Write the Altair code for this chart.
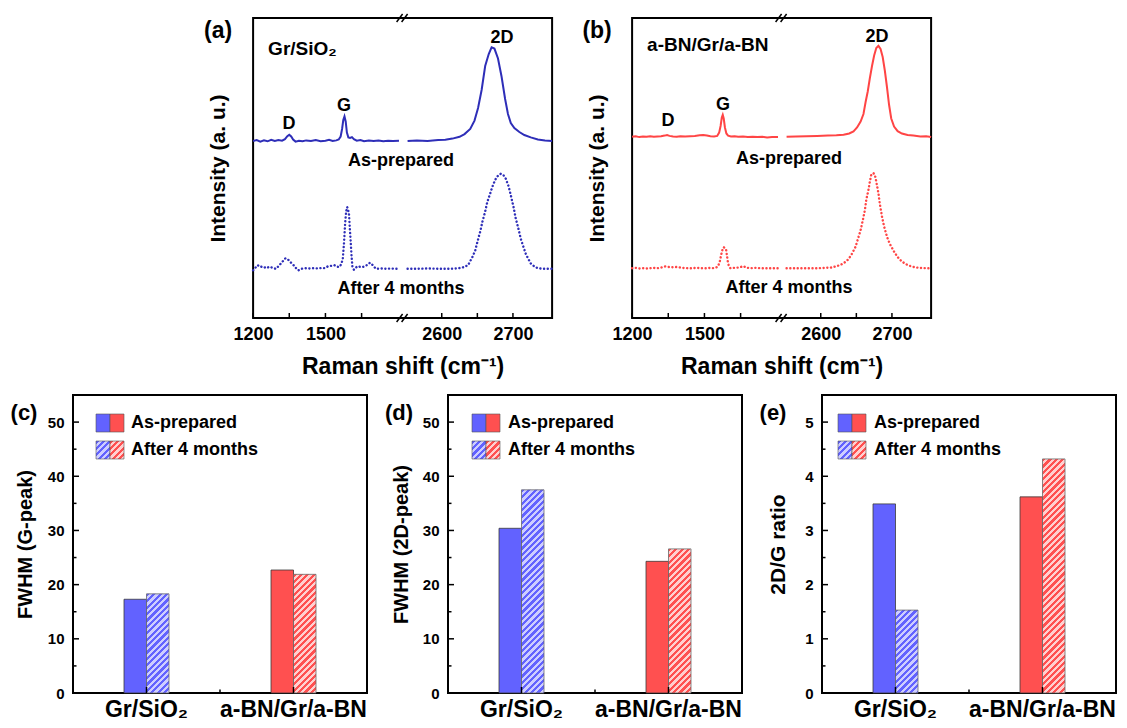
import altair as alt
import pandas as pd

FONT = "Liberation Sans"
BLUE_LINE = "#2e2eb8"
RED_LINE = "#ff4545"
BLUE_BAR = "#6262ff"
RED_BAR = "#ff5050"
BLUE_LIGHT = "#cdcdff"
RED_LIGHT = "#ffd0d0"

# ---------------- Raman spectra (wavenumber, intensity a.u.) ----------------
a_prep = [(1200, 59.0), (1215, 59.3), (1230, 58.8), (1245, 59.2), (1260, 58.9), (1275, 59.4), (1290, 59.0),
          (1305, 59.3), (1320, 59.1), (1332, 59.6), (1342, 60.6), (1350, 61.1), (1358, 60.5), (1366, 59.5),
          (1376, 58.8), (1390, 59.1), (1405, 58.9), (1420, 59.2), (1440, 59.0), (1460, 59.3), (1480, 58.9),
          (1500, 59.1), (1515, 59.4), (1530, 59.0), (1545, 59.2), (1555, 59.5), (1563, 60.5), (1569, 63.0),
          (1574, 66.0), (1579, 67.2), (1584, 65.5), (1589, 61.8), (1595, 60.2), (1602, 60.0), (1610, 60.3),
          (1618, 59.6), (1630, 59.1), (1645, 59.3), (1660, 58.9), (1680, 59.2), (1700, 59.0), (1720, 59.2),
          (1740, 58.9), (1760, 59.1), (1780, 59.0), (1805, 59.1),
          (2552, 59.0), (2565, 59.2), (2580, 59.0), (2595, 59.3), (2605, 59.4), (2615, 59.8), (2625, 60.4),
          (2632, 61.3), (2640, 63.0), (2646, 65.8), (2651, 70.0), (2656, 76.0), (2661, 84.0), (2666, 88.0),
          (2670, 90.2), (2674, 89.8), (2679, 86.5), (2684, 80.5), (2689, 73.0), (2693, 68.0), (2697, 65.0),
          (2702, 63.3), (2709, 62.0), (2716, 61.0), (2725, 60.2), (2735, 59.5), (2745, 59.2), (2755, 59.0)]

a_aged = [(1200, 15.9), (1210, 16.8), (1219, 17.6), (1230, 17.0), (1240, 17.2), (1255, 16.6), (1268, 17.1),
          (1282, 16.7), (1295, 16.4), (1309, 17.6), (1322, 18.8), (1334, 19.9), (1343, 19.6), (1351, 19.0),
          (1362, 18.0), (1371, 17.4), (1380, 16.4), (1388, 15.9), (1400, 16.4), (1413, 16.6), (1430, 16.5),
          (1450, 16.6), (1470, 16.5), (1485, 16.7), (1496, 16.6), (1510, 17.2), (1525, 17.4), (1537, 17.6),
          (1548, 17.1), (1558, 17.0), (1566, 18.0), (1572, 19.8), (1577, 25.0), (1582, 32.0), (1586, 35.5),
          (1590, 37.0), (1594, 36.2), (1598, 34.3), (1601, 30.0), (1604, 26.4), (1608, 21.0), (1612, 17.0),
          (1618, 16.1), (1626, 16.8), (1634, 17.3), (1645, 17.0), (1655, 17.0), (1666, 17.4), (1676, 17.8),
          (1684, 18.4), (1690, 18.2), (1700, 17.2), (1710, 16.4), (1730, 16.5), (1750, 16.4), (1770, 16.5),
          (1790, 16.4), (1805, 16.4),
          (2552, 16.4), (2565, 16.4), (2580, 16.5), (2595, 16.4), (2610, 16.4), (2622, 16.5), (2630, 16.9),
          (2637, 17.6), (2643, 20.3), (2647, 22.5), (2650, 25.3), (2654, 28.8), (2657, 32.0), (2661, 35.5),
          (2664, 38.7), (2668, 41.5), (2671, 43.7), (2675, 46.0), (2678, 47.2), (2683, 48.1), (2687, 47.5),
          (2690, 46.4), (2694, 43.8), (2697, 40.9), (2701, 36.8), (2704, 33.1), (2708, 29.5), (2711, 26.4),
          (2715, 23.5), (2718, 21.4), (2722, 19.5), (2725, 18.2), (2730, 17.2), (2735, 16.6), (2742, 16.4),
          (2750, 16.4), (2755, 16.4)]

b_prep = [(1200, 60.4), (1215, 60.6), (1230, 60.3), (1245, 60.5), (1260, 60.4), (1275, 60.6), (1290, 60.4),
          (1305, 60.5), (1320, 60.6), (1335, 60.8), (1345, 61.0), (1355, 60.7), (1370, 60.5), (1385, 60.4),
          (1400, 60.6), (1420, 60.5), (1440, 60.6), (1460, 60.7), (1480, 60.9), (1495, 61.0), (1510, 60.8),
          (1525, 60.6), (1540, 60.5), (1553, 60.7), (1561, 61.8), (1567, 64.0), (1572, 66.8), (1576, 67.7),
          (1580, 66.5), (1585, 63.5), (1591, 61.5), (1598, 60.8), (1610, 60.5), (1625, 60.6), (1640, 60.4),
          (1660, 60.5), (1680, 60.3), (1700, 60.4), (1720, 60.3), (1740, 60.4), (1760, 60.2), (1780, 60.3),
          (1805, 60.3),
          (2552, 60.4), (2565, 60.5), (2580, 60.6), (2595, 60.7), (2610, 60.8), (2622, 60.9), (2632, 61.1),
          (2640, 61.5), (2646, 62.2), (2651, 63.5), (2656, 65.5), (2660, 68.0), (2663, 72.0), (2666, 75.5),
          (2669, 80.0), (2672, 84.0), (2675, 87.5), (2678, 90.0), (2681, 90.7), (2684, 89.7), (2687, 87.0),
          (2690, 82.5), (2693, 77.0), (2696, 71.0), (2699, 66.5), (2703, 63.8), (2708, 62.3), (2714, 61.5),
          (2722, 61.0), (2730, 60.8), (2740, 60.5), (2748, 60.6), (2755, 60.3)]

b_aged = [(1200, 16.6), (1215, 16.7), (1230, 16.5), (1245, 16.6), (1260, 16.5), (1275, 16.6), (1290, 16.7),
          (1305, 16.6), (1320, 16.8), (1337, 17.2), (1350, 17.0), (1365, 16.9), (1380, 17.0), (1394, 16.9),
          (1410, 16.7), (1430, 16.6), (1450, 16.6), (1470, 16.7), (1490, 16.6), (1510, 16.6), (1525, 16.7),
          (1539, 16.6), (1550, 16.9), (1557, 17.3), (1564, 19.0), (1571, 21.6), (1576, 23.2), (1580, 23.6),
          (1585, 23.3), (1590, 22.7), (1594, 20.5), (1598, 18.2), (1603, 17.0), (1608, 16.6), (1620, 16.7),
          (1640, 16.8), (1655, 17.1), (1663, 17.3), (1672, 16.8), (1690, 16.6), (1710, 16.7), (1730, 16.6),
          (1750, 16.6), (1770, 16.6), (1790, 16.6), (1805, 16.6),
          (2552, 16.6), (2565, 16.6), (2580, 16.6), (2595, 16.6), (2605, 16.7), (2614, 16.8), (2621, 17.2),
          (2628, 17.7), (2634, 18.6), (2639, 19.6), (2644, 21.5), (2649, 23.8), (2652, 26.2), (2656, 29.3),
          (2659, 32.5), (2662, 36.0), (2664, 39.5), (2667, 42.7), (2669, 45.5), (2671, 47.8), (2674, 48.3),
          (2676, 47.7), (2678, 45.5), (2681, 41.6), (2683, 38.0), (2686, 33.8), (2689, 30.5), (2693, 27.1),
          (2697, 24.7), (2703, 22.1), (2708, 20.3), (2714, 18.8), (2721, 17.8), (2728, 17.1), (2738, 16.7),
          (2749, 16.6), (2755, 16.6)]

tick_wn_major = [1200, 1500, 2600, 2700]
tick_wn_minor = [1350, 1650, 2650]

# ---------------- bar data ----------------
categories = ["Gr/SiO₂", "a-BN/Gr/a-BN"]
groups = ["As-prepared", "After 4 months"]
fwhm_g_prep = [17.3, 22.7]
fwhm_g_aged = [18.3, 21.9]
fwhm_2d_prep = [30.4, 24.3]
fwhm_2d_aged = [37.5, 26.6]
ratio_prep = [3.49, 3.62]
ratio_aged = [1.53, 4.32]

# ---------------- broken x-axis mapping ----------------
S1_LO, S1_HI = 1200, 1820
S2_LO, S2_HI = 2545, 2755
POS_EXPR = (f"datum.wn < 2000 ? (datum.wn - {S1_LO}) / {S1_HI - S1_LO} * 0.5"
            f" : 0.5 + (datum.wn - {S2_LO}) / {S2_HI - S2_LO} * 0.5")
LABEL_EXPR = (f"format(datum.value < 0.5 ? {S1_LO} + datum.value * 2 * {S1_HI - S1_LO}"
              f" : {S2_LO} + (datum.value - 0.5) * 2 * {S2_HI - S2_LO}, '.0f')")


def pos_of(w):
    if w < 2000:
        return (w - S1_LO) / (S1_HI - S1_LO) * 0.5
    return 0.5 + (w - S2_LO) / (S2_HI - S2_LO) * 0.5


ONE = pd.DataFrame({"k": [0]})
SW, SH = 299, 300
BW, BH = 294, 298
BAR_W = 22.5
X_PAD_INNER = 1 - 2 * BAR_W / (BW / 2)
X_PAD_OUTER = X_PAD_INNER / 2


def txt(s, x, y, size=18, align="center"):
    return alt.Chart(ONE).mark_text(text=s, font=FONT, fontWeight="bold", fontSize=size, align=align,
                                    baseline="middle", color="black").encode(x=alt.value(x), y=alt.value(y))


def seg_rule(x0, y0, x1, y1, color="black", width=1.5):
    return alt.Chart(ONE).mark_rule(color=color, strokeWidth=width).encode(
        x=alt.value(x0), y=alt.value(y0), x2=alt.value(x1), y2=alt.value(y1))


def spectra_panel(letter, prep, aged, color, notes):
    df = pd.concat([
        pd.DataFrame(prep, columns=["wn", "inten"]).assign(series="As-prepared"),
        pd.DataFrame(aged, columns=["wn", "inten"]).assign(series="After 4 months"),
    ])
    xs = alt.Scale(domain=[0, 1], nice=False, zero=False)
    ys = alt.Scale(domain=[0, 100], nice=False, zero=False)
    x_axis = alt.Axis(values=[pos_of(w) for w in tick_wn_major], labelExpr=LABEL_EXPR,
                      title="Raman shift (cm⁻¹)", ticks=False, domain=False, grid=False,
                      labelFontSize=18, labelPadding=7, labelFlush=False, labelOverlap=False,
                      titleFontSize=23, titlePadding=12)
    y_axis = alt.Axis(title="Intensity (a. u.)", labels=False, ticks=False, domain=False, grid=False,
                      titleFontSize=21, titlePadding=25)
    X = alt.X("pos:Q", scale=xs, axis=x_axis)
    Y = alt.Y("inten:Q", scale=ys, axis=y_axis)
    base = alt.Chart(df).transform_calculate(pos=POS_EXPR, seg="datum.wn < 2000 ? 0 : 1")
    solid = base.transform_filter(alt.datum.series == "As-prepared").mark_line(
        color=color, strokeWidth=2).encode(x=X, y=Y, detail="seg:N")
    dotted = base.transform_filter(alt.datum.series == "After 4 months").mark_line(
        color=color, strokeWidth=2.4, strokeDash=[0.1, 3.6], strokeCap="round").encode(
        x=X, y=Y, detail="seg:N")
    ticks = alt.Chart(pd.DataFrame({"wn": tick_wn_major + tick_wn_minor})).transform_calculate(
        pos=POS_EXPR).mark_rule(color="black", strokeWidth=1.5).encode(
        x=X, y=alt.value(SH), y2=alt.value(SH - 5))
    layers = [solid, dotted, ticks]
    cx = SW / 2
    for cy in (0, SH):
        layers.append(seg_rule(cx - 6, cy + 4, cx, cy - 4))
        layers.append(seg_rule(cx - 1, cy + 4, cx + 5, cy - 4))
    for (s, x, y, size, align) in notes:
        layers.append(txt(s, x, y, size, align))
    layers.append(txt(f"({letter})", -35, 13, 23))
    return alt.layer(*layers).properties(width=SW, height=SH)


def hatch(c1, c2, w, h, period=6.4, frac=0.5):
    L = w + h
    k = L / (w * w + h * h)
    stops = []
    t = 0.0
    while t < L:
        a = round(t / L, 5)
        b = round(min((t + period * frac) / L, 1.0), 5)
        c = round(min((t + period) / L, 1.0), 5)
        stops += [{"offset": a, "color": c1}, {"offset": b, "color": c1},
                  {"offset": b, "color": c2}, {"offset": c, "color": c2}]
        t += period
    return {"gradient": "linear", "x1": 0, "y1": 0, "x2": w * k, "y2": h * k, "stops": stops}


def bar_panel(letter, prep, aged, ymax, major, minor, ytitle, tfs, tpad, sw_x, tx):
    df = pd.DataFrame({"cat": categories * 2,
                       "group": [groups[0]] * 2 + [groups[1]] * 2,
                       "value": prep + aged})
    xs = alt.Scale(type="band", domain=categories, paddingInner=X_PAD_INNER, paddingOuter=X_PAD_OUTER)
    os_ = alt.Scale(domain=groups, paddingInner=0, paddingOuter=0)
    ys = alt.Scale(domain=[0, ymax], nice=False, zero=True)
    xax = alt.Axis(title=None, labelAngle=0, labelFontSize=23, labelPadding=5, ticks=False,
                   domain=False, grid=False, labelLimit=400, labelOverlap=False)
    yax = alt.Axis(values=major, title=ytitle, titleFontSize=tfs, titlePadding=tpad, labelFontSize=15,
                   labelPadding=9, ticks=False, domain=False, grid=False)
    X = alt.X("cat:N", scale=xs, axis=xax)
    XO = alt.XOffset("group:N", scale=os_)
    Y = alt.Y("value:Q", scale=ys, axis=yax)
    base = alt.Chart(df)
    layers = [base.transform_filter(alt.datum.group == groups[0]).mark_bar(
        stroke="#3a3a3a", strokeWidth=0.8).encode(
        x=X, xOffset=XO, y=Y,
        color=alt.Color("cat:N", scale=alt.Scale(domain=categories, range=[BLUE_BAR, RED_BAR]), legend=None))]
    pal = [(BLUE_BAR, BLUE_LIGHT), (RED_BAR, RED_LIGHT)]
    for i, c in enumerate(categories):
        h = aged[i] / ymax * BH
        g = hatch(pal[i][0], pal[i][1], BAR_W, h)
        layers.append(base.transform_filter((alt.datum.group == groups[1]) & (alt.datum.cat == c)).mark_bar(
            stroke="#6a6a6a", strokeWidth=0.8).encode(x=X, xOffset=XO, y=Y, fill=alt.value(g)))
    # inward ticks
    YT = alt.Y("v:Q", scale=ys, axis=yax)
    layers.append(alt.Chart(pd.DataFrame({"v": major})).mark_rule(color="black", strokeWidth=1.5).encode(
        y=YT, x=alt.value(0), x2=alt.value(6)))
    layers.append(alt.Chart(pd.DataFrame({"v": minor})).mark_rule(color="black", strokeWidth=1.5).encode(
        y=YT, x=alt.value(0), x2=alt.value(3.5)))
    layers.append(alt.Chart(pd.DataFrame({"cat": categories})).mark_rule(color="black", strokeWidth=1.5).encode(
        x=alt.X("cat:N", scale=xs, axis=xax, bandPosition=0.5), y=alt.value(BH), y2=alt.value(BH - 6)))
    layers.append(seg_rule(BW / 2, BH, BW / 2, BH - 3.5))
    # legend
    half = 14
    for row, (y0, y1) in enumerate([(19, 37), (46, 64)]):
        for j in range(2):
            x0 = sw_x + j * half
            if row == 0:
                f = pal[j][0]
            else:
                f = hatch(pal[j][0], pal[j][1], half, y1 - y0)
            layers.append(alt.Chart(ONE).mark_rect(stroke="#555555", strokeWidth=0.6).encode(
                x=alt.value(x0), x2=alt.value(x0 + half), y=alt.value(y0), y2=alt.value(y1), fill=alt.value(f)))
        layers.append(txt(groups[row], tx, (y0 + y1) / 2, 18, "left"))
    layers.append(txt(f"({letter})", -49, 18, 22))
    return alt.layer(*layers).properties(width=BW, height=BH)


notes_a = [("Gr/SiO₂", 15, 31, 19, "left"), ("D", 36, 106, 18, "center"), ("G", 91, 88, 18, "center"),
           ("2D", 249, 20, 18, "center"), ("As-prepared", 148, 143, 18, "center"),
           ("After 4 months", 148, 271, 18, "center")]
notes_b = [("a-BN/Gr/a-BN", 15, 27, 19, "left"), ("D", 36, 103, 18, "center"), ("G", 91, 87, 18, "center"),
           ("2D", 245, 19, 18, "center"), ("As-prepared", 157, 141, 18, "center"),
           ("After 4 months", 157, 270, 18, "center")]

pa = spectra_panel("a", a_prep, a_aged, BLUE_LINE, notes_a)
pb = spectra_panel("b", b_prep, b_aged, RED_LINE, notes_b)

pc = bar_panel("c", fwhm_g_prep, fwhm_g_aged, 55, [0, 10, 20, 30, 40, 50], [5, 15, 25, 35, 45],
               "FWHM (G-peak)", 20, 12, 23, 58)
pd_ = bar_panel("d", fwhm_2d_prep, fwhm_2d_aged, 55, [0, 10, 20, 30, 40, 50], [5, 15, 25, 35, 45],
                "FWHM (2D-peak)", 20, 11, 24, 60)
pe = bar_panel("e", ratio_prep, ratio_aged, 5.5, [0, 1, 2, 3, 4, 5], [0.5, 1.5, 2.5, 3.5, 4.5],
               "2D/G ratio", 21, 16, 16, 52)

top = alt.hconcat(pa, pb, spacing=23)
bottom = alt.hconcat(pc, pd_, pe, spacing=15)

chart = alt.vconcat(top, bottom, spacing=15, center=True).properties(
    padding={"left": 1, "top": 4, "right": 0, "bottom": 0}
).configure_view(
    stroke="black", strokeWidth=2
).configure_axis(
    labelFont=FONT, titleFont=FONT, labelFontWeight="bold", titleFontWeight="bold",
    labelColor="black", titleColor="black"
)

chart.save("out.html", embed_options={"renderer": "svg", "actions": False})
